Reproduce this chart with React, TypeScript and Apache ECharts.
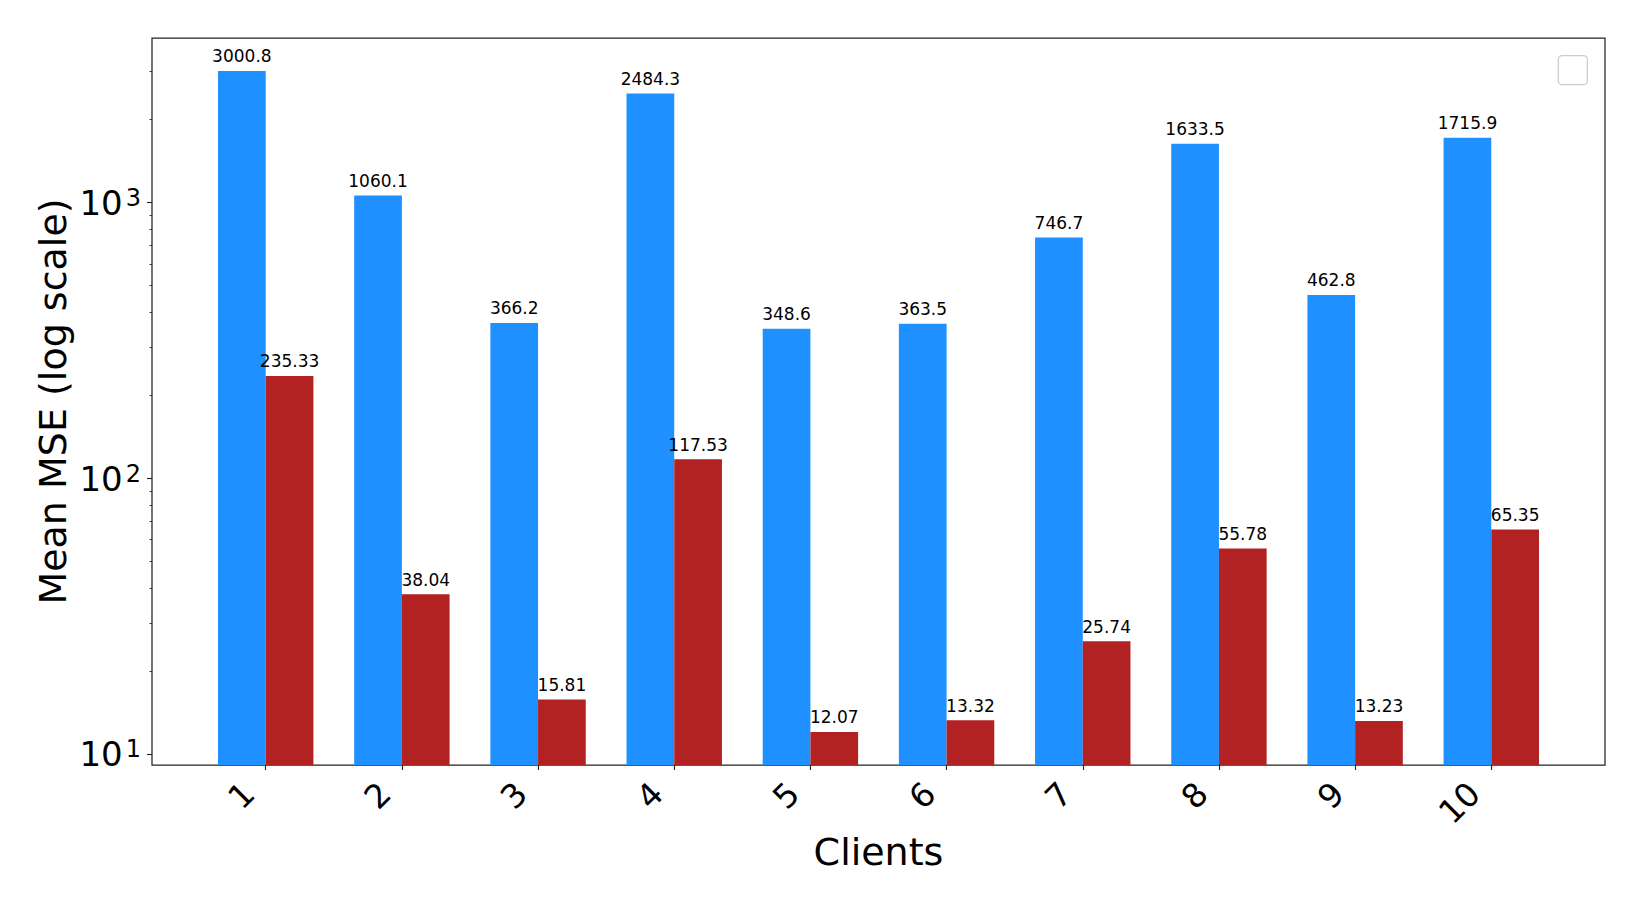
import { useEffect, useRef } from 'react';
import * as echarts from 'echarts';

// ---- data ----
const clientLabels = ['1', '2', '3', '4', '5', '6', '7', '8', '9', '10'];
const clientPositions = [0, 1, 2, 3, 4, 5, 6, 7, 8, 9];
const blueMse = [3000.8, 1060.1, 366.2, 2484.3, 348.6, 363.5, 746.7, 1633.5, 462.8, 1715.9];
const redMse = [235.33, 38.04, 15.81, 117.53, 12.07, 13.32, 25.74, 55.78, 13.23, 65.35];
const yMajorTicks = [10, 100, 1000];
const yMinorTicks = [20, 30, 40, 50, 60, 70, 80, 90, 200, 300, 400, 500, 600, 700, 800, 900, 2000, 3000];
const yMin = 9.16;
const yMax = 3948;
const xMin = -0.835;
const xMax = 9.835;

const FONT = 'DejaVu Sans';

export default function App() {
  const ref = useRef<HTMLDivElement>(null);

  useEffect(() => {
    if (!ref.current) return;
    const chart = echarts.init(ref.current, undefined, { renderer: 'svg' });

    const blueData = clientPositions.map((x, i) => [x, blueMse[i]]);
    const redData = clientPositions.map((x, i) => [x, redMse[i]]);

    const option: any = {
      animation: false,
      backgroundColor: '#ffffff',
      textStyle: { fontFamily: FONT },
      grid: {
        left: 152,
        right: 39,
        top: 38,
        bottom: 148,
        show: true,
        borderColor: '#222222',
        borderWidth: 1.25,
        backgroundColor: 'transparent',
        containLabel: false,
        outerBoundsMode: 'none',
      },
      xAxis: {
        type: 'value',
        min: xMin,
        max: xMax,
        name: 'Clients',
        nameLocation: 'middle',
        nameGap: 68,
        nameMoveOverlap: false,
        nameTextStyle: { fontFamily: FONT, fontSize: 38, color: '#000' },
        axisLine: { show: false, onZero: false },
        splitLine: { show: false },
        axisTick: {
          show: true,
          customValues: clientPositions,
          length: 5,
          lineStyle: { color: '#222222', width: 1.1 },
        },
        axisLabel: {
          show: true,
          customValues: clientPositions,
          formatter: (v: number) => clientLabels[Math.round(v)] ?? '',
          rotate: 45,
          margin: 6,
          padding: [0, 24, 0, 0],
          fontFamily: FONT,
          fontSize: 33,
          color: '#000',
          hideOverlap: false,
        },
      },
      yAxis: [
        {
          type: 'log',
          logBase: 10,
          min: yMin,
          max: yMax,
          name: 'Mean MSE (log scale)',
          nameLocation: 'middle',
          nameRotate: 90,
          nameGap: 80,
          nameMoveOverlap: false,
          nameTextStyle: { fontFamily: FONT, fontSize: 38, color: '#000' },
          axisLine: { show: false, onZero: false },
          splitLine: { show: false },
          minorTick: { show: false },
          axisTick: {
            show: true,
            customValues: yMajorTicks,
            length: 5,
            lineStyle: { color: '#222222', width: 1.1 },
          },
          axisLabel: {
            show: true,
            customValues: yMajorTicks,
            margin: 11,
            formatter: (v: number) => `{base|10}{sup|${Math.round(Math.log10(v))}}`,
            rich: {
              base: { fontFamily: FONT, fontSize: 34, color: '#000' },
              sup: {
                fontFamily: FONT,
                fontSize: 24,
                color: '#000',
                verticalAlign: 'top',
                lineHeight: 12,
                padding: [0, 0, 0, 3],
              },
            },
          },
        },
        {
          type: 'log',
          logBase: 10,
          min: yMin,
          max: yMax,
          position: 'left',
          offset: 0,
          axisLine: { show: false, onZero: false },
          splitLine: { show: false },
          axisLabel: { show: false },
          axisTick: {
            show: true,
            customValues: yMinorTicks,
            length: 2.5,
            lineStyle: { color: '#222222', width: 0.9 },
          },
        },
      ],
      graphic: [
        {
          type: 'rect',
          right: 56,
          top: 55,
          shape: { width: 29, height: 29, r: 4 },
          style: { fill: '#ffffff', stroke: '#cccccc', lineWidth: 1.3 },
          z: 10,
        },
      ],
      series: [
        {
          name: 'Series A',
          type: 'bar',
          xAxisIndex: 0,
          yAxisIndex: 0,
          data: blueData,
          barWidth: 47.7,
          barGap: '0%',
          itemStyle: { color: '#1E90FF' },
          label: {
            show: true,
            position: 'top',
            distance: 6,
            fontFamily: FONT,
            fontSize: 17,
            color: '#000',
            formatter: (p: any) => Number(p.value[1]).toFixed(1),
          },
        },
        {
          name: 'Series B',
          type: 'bar',
          xAxisIndex: 0,
          yAxisIndex: 0,
          data: redData,
          barWidth: 47.7,
          barGap: '0%',
          itemStyle: { color: '#B22222' },
          label: {
            show: true,
            position: 'top',
            distance: 6,
            fontFamily: FONT,
            fontSize: 17,
            color: '#000',
            formatter: (p: any) => Number(p.value[1]).toFixed(2),
          },
        },
      ],
    };

    chart.setOption(option);
    return () => {
      chart.dispose();
    };
  }, []);

  return (
    <div
      ref={ref}
      style={{ position: 'absolute', left: 0, top: 0, width: 1644, height: 913 }}
    />
  );
}
